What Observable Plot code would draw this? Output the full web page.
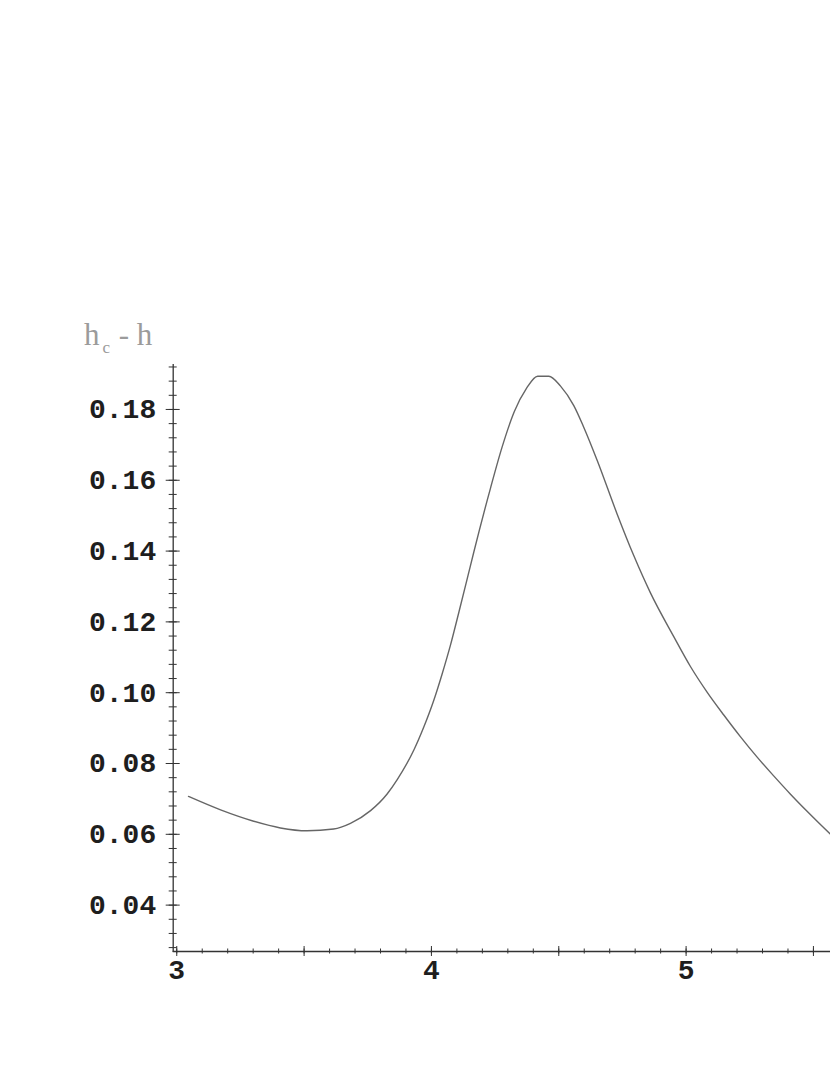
<!DOCTYPE html>
<html>
<head>
<meta charset="utf-8">
<script src="https://cdn.jsdelivr.net/npm/d3@7"></script>
<script src="https://cdn.jsdelivr.net/npm/@observablehq/plot@0.6"></script>
<style>
  html, body { margin: 0; padding: 0; background: #fff; }
  #chart { position: relative; width: 830px; height: 1075px; overflow: hidden; }
  #chart svg text { font-family: "Liberation Mono", "DejaVu Sans Mono", monospace; font-weight: bold; }
  #chart svg text.ytitle { font-family: "Liberation Serif", "DejaVu Serif", serif; font-weight: normal; }
</style>
</head>
<body>
<div id="chart"></div>
<script>
// Curve samples (x, hc - h)
const xs = [3.046, 3.172, 3.302, 3.407, 3.512, 3.616, 3.682, 3.761, 3.826, 3.865,
            3.931, 3.970, 4.009, 4.042, 4.075, 4.108, 4.144, 4.166, 4.232, 4.278,
            4.326, 4.372, 4.417, 4.461, 4.507, 4.559, 4.598, 4.651, 4.729, 4.794,
            4.860, 4.951, 5.017, 5.083, 5.148, 5.213, 5.279, 5.344, 5.409, 5.475, 5.567];
const ys = [0.0707, 0.0669, 0.0637, 0.0618, 0.0610, 0.0615, 0.0631, 0.0667, 0.0714, 0.0754,
            0.0838, 0.0903, 0.0978, 0.1053, 0.1135, 0.1228, 0.1332, 0.1396, 0.1578, 0.1695,
            0.1795, 0.1858, 0.1894, 0.1894, 0.1866, 0.1811, 0.1750, 0.1656, 0.1505, 0.1388,
            0.1282, 0.1159, 0.1074, 0.1001, 0.0937, 0.0876, 0.0818, 0.0765, 0.0714, 0.0665, 0.0600];

const xDomain = [2.986, 5.567];
const yDomain = [0.0269, 0.1927];

const xLabelTicks = [3, 4, 5];
const xMajorTicks = [3, 3.5, 4, 4.5, 5, 5.5];
const xMinorTicks = d3.range(30, 56).map(d => d / 10);
const yLabelTicks = [0.04, 0.06, 0.08, 0.10, 0.12, 0.14, 0.16, 0.18];
const yMinorTicks = d3.range(7, 49).map(d => d * 0.004);

const yLabelText = ["h", "c", " - h"];

const data = xs.map((x, i) => ({x, y: ys[i]}));
const axisColor = "#333";

const plot = Plot.plot({
  width: 830,
  height: 1075,
  marginLeft: 172.7,
  marginRight: 0,
  marginTop: 364,
  marginBottom: 124,
  x: {domain: xDomain},
  y: {domain: yDomain},
  style: {background: "#fff", overflow: "hidden"},
  marks: [
    Plot.ruleX([xDomain[0]], {stroke: axisColor, strokeWidth: 1.3, insetBottom: -1}),
    Plot.ruleY([yDomain[0]], {stroke: axisColor, strokeWidth: 1.3}),
    Plot.axisX({ticks: xMinorTicks, tickSize: 5, dy: -2.5, tickFormat: () => "", label: null, stroke: axisColor}),
    Plot.axisX({ticks: xMajorTicks, tickSize: 10, dy: -5, tickFormat: () => "", label: null, stroke: axisColor}),
    Plot.axisX({ticks: xLabelTicks, tickSize: 0, tickPadding: 8, tickFormat: d3.format("d"),
                label: null, fontSize: 28, fill: "#1e1e1e"}),
    Plot.axisY({ticks: yMinorTicks, tickSize: 8, dx: 4, tickFormat: () => "", label: null, stroke: axisColor}),
    Plot.axisY({ticks: yLabelTicks, tickSize: 14, dx: 7, tickFormat: () => "", label: null, stroke: axisColor}),
    Plot.axisY({ticks: yLabelTicks, tickSize: 0, tickPadding: 17, tickFormat: d3.format(".2f"),
                label: null, fontSize: 28, fill: "#1e1e1e"}),
    Plot.line(data, {x: "x", y: "y", stroke: "#666", strokeWidth: 1.4, curve: "monotone-x"})
  ]
});

// Axis title h_c - h (serif, gray)
const title = d3.select(plot).append("text")
  .attr("class", "ytitle")
  .attr("x", 84).attr("y", 345)
  .attr("text-anchor", "start")
  .style("fill", "#9b9b9b");
title.append("tspan").style("font-size", "31px").text(yLabelText[0]);
title.append("tspan").style("font-size", "17px").attr("dx", 3).attr("dy", 8).text(yLabelText[1]);
title.append("tspan").style("font-size", "31px").style("white-space", "pre").attr("dx", 1).attr("dy", -8).text(yLabelText[2]);

document.getElementById("chart").appendChild(plot);
</script>
</body>
</html>
